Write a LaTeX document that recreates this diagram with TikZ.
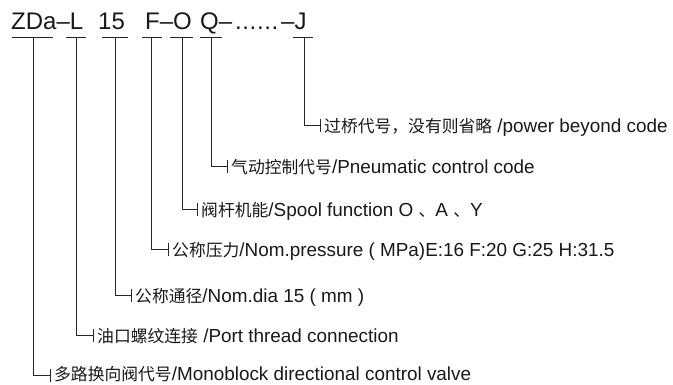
\documentclass[tikz,border=0pt]{standalone}
\usepackage{fontspec}
\setmainfont{Liberation Sans}
\newfontfamily\cjk{Noto Sans CJK SC}
\newcommand\zh[1]{{\cjk\fontsize{16.8}{18}\selectfont #1}}
\begin{document}
\begin{tikzpicture}[x=1pt,y=-1pt,
  conn/.style={draw=black!85,line width=0.9pt},
  code/.style={anchor=base west,inner sep=0pt,text=black!90,font=\fontsize{24}{26}\selectfont},
  lab/.style={anchor=base west,inner sep=0pt,text=black!90,font=\fontsize{18.9}{20}\selectfont}]
\useasboundingbox (0,0) rectangle (673,384);
% code string
\node[code] (c1) at (11,29) {ZDa–L};
\node[code] (c2) at (98,29) {15};
\node[code] (c3) at (145,29) {F–O};
\node[code] (c4) at (200,29) {Q–};
\node[code] (c5) at (235,29) {.\kern0.6pt.\kern0.6pt.\kern0.6pt.\kern0.6pt.\kern0.6pt.};
\node[code] (c6) at (281,29) {–J};
% bar tops
\coordinate (bz) at (33,37);  \coordinate (bzl) at (12,37);  \coordinate (bzr) at (53,37);
\coordinate (bl) at (76,37);  \coordinate (bll) at (66,37);  \coordinate (blr) at (86,37);
\coordinate (bd) at (115,37); \coordinate (bdl) at (102,37); \coordinate (bdr) at (128,37);
\coordinate (bf) at (151,37); \coordinate (bfl) at (142,37); \coordinate (bfr) at (162,37);
\coordinate (bo) at (182,37); \coordinate (bol) at (170,37); \coordinate (bor) at (193,37);
\coordinate (bq) at (211,37); \coordinate (bql) at (200,37); \coordinate (bqr) at (222,37);
\coordinate (bj) at (304,37); \coordinate (bjl) at (293,37); \coordinate (bjr) at (313,37);
% ticks
\coordinate (tz) at (50,375); \coordinate (tzt) at (50,369); \coordinate (tzb) at (50,382);
\coordinate (tl) at (93,335); \coordinate (tlt) at (93,329); \coordinate (tlb) at (93,342);
\coordinate (td) at (131,295); \coordinate (tdt) at (131,289); \coordinate (tdb) at (131,302);
\coordinate (tf) at (168,249); \coordinate (tft) at (168,243); \coordinate (tfb) at (168,256);
\coordinate (to) at (197,209); \coordinate (tot) at (197,203); \coordinate (tob) at (197,216);
\coordinate (tq) at (227,166); \coordinate (tqt) at (227,160); \coordinate (tqb) at (227,173);
\coordinate (tj) at (320,125); \coordinate (tjt) at (320,119); \coordinate (tjb) at (320,132);
% labels
\node[lab] (lz) at (54,380) {\zh{多路换向阀代号}/Monoblock directional control valve};
\node[lab] (ll) at (97,342) {\zh{油口螺纹连接} /Port thread connection};
\node[lab] (ld) at (135,302) {\zh{公称通径}/Nom.dia 15 ( mm )};
\node[lab] (lf) at (172,256) {\zh{公称压力}/Nom.pressure ( MPa)E:16 F:20 G:25 H:31.5};
\node[lab] (lo) at (201,216) {\zh{阀杆机能}/Spool function O \zh{、}A \zh{、}Y};
\node[lab] (lq) at (231,173) {\zh{气动控制代号}/Pneumatic control code};
\node[lab] (lj) at (324,132) {\zh{过桥代号，没有则省略} /power beyond code};
% connectors
\foreach \k in {z,l,d,f,o,q,j}{
  \draw[conn] (b\k l) -- (b\k r);
  \draw[conn] (b\k) |- (t\k);
  \draw[conn] (t\k t) -- (t\k b);
}
\end{tikzpicture}
\end{document}
